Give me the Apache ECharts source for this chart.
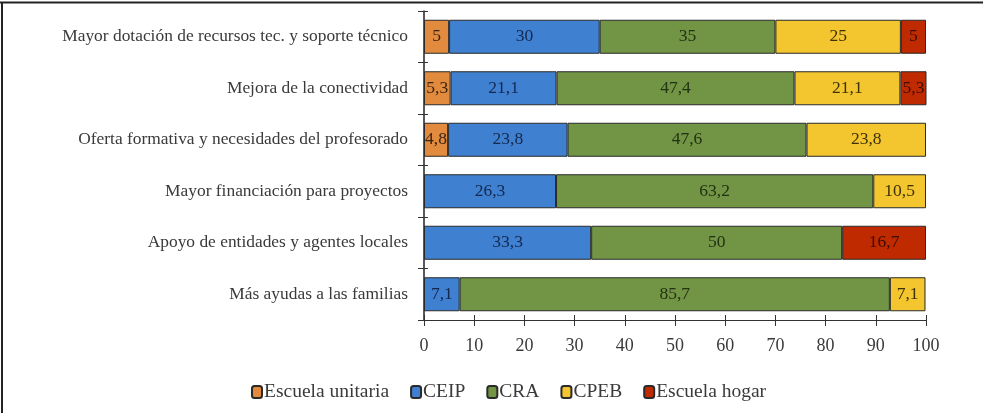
<!DOCTYPE html>
<html><head><meta charset="utf-8">
<script src="https://cdn.jsdelivr.net/npm/echarts@6/dist/echarts.min.js"></script>
<style>html,body{margin:0;padding:0;background:#fff;}#c{width:983px;height:413px;}</style>
</head><body><div id="c"></div>
<script>
const categories = [
  'Mayor dotación de recursos tec. y soporte técnico',
  'Mejora de la conectividad',
  'Oferta formativa y necesidades del profesorado',
  'Mayor financiación para proyectos',
  'Apoyo de entidades y agentes locales',
  'Más ayudas a las familias'
];
const seriesNames = ['Escuela unitaria', 'CEIP', 'CRA', 'CPEB', 'Escuela hogar'];
const escuelaUnitaria = [5, 5.3, 4.8, null, null, null];
const ceip = [30, 21.1, 23.8, 26.3, 33.3, 7.1];
const cra = [35, 47.4, 47.6, 63.2, 50, 85.7];
const cpeb = [25, 21.1, 23.8, 10.5, null, 7.1];
const escuelaHogar = [5, 5.3, null, null, 16.7, null];
const xTicks = [0, 10, 20, 30, 40, 50, 60, 70, 80, 90, 100];

const values = [escuelaUnitaria, ceip, cra, cpeb, escuelaHogar];
const colors = ['#E28A3D', '#3F80D0', '#719544', '#F3C52E', '#C02A00'];
const labelColors = ['#3a2412', '#14284f', '#233212', '#3d3206', '#3d0c00'];
const FONT = '"Liberation Serif", "DejaVu Serif", serif';

const chart = echarts.init(document.getElementById('c'));
chart.setOption({
  animation: false,
  textStyle: { fontFamily: FONT },
  grid: { left: 424, right: 57, top: 11, height: 309 },
  graphic: [
    { type: 'line', shape: { x1: 0, y1: 2.5, x2: 983, y2: 2.5 }, style: { stroke: '#222', lineWidth: 2 } },
    { type: 'line', shape: { x1: 2, y1: 2, x2: 2, y2: 413 }, style: { stroke: '#222', lineWidth: 2 } }
  ],
  legend: {
    bottom: 6, left: 246,
    itemWidth: 10, itemHeight: 12, itemGap: 21,
    textStyle: { fontFamily: FONT, fontSize: 19.5, color: '#3a3a3a', padding: [0, 0, 0, -3] },
    data: seriesNames
  },
  xAxis: [{
    type: 'value', min: 0, max: 100, interval: 10,
    axisLine: { show: true, lineStyle: { color: '#333', width: 1 } },
    axisTick: { show: true, length: 6, lineStyle: { color: '#333' } },
    axisLabel: { fontFamily: FONT, fontSize: 18, color: '#3a3a3a', margin: 17,
      formatter: v => String(v) },
    splitLine: { show: false }
  }, {
    type: 'value', min: 0, max: 100, interval: 10, position: 'bottom',
    axisLine: { show: false },
    axisTick: { show: true, inside: true, length: 5, lineStyle: { color: '#333' } },
    axisLabel: { show: false }, splitLine: { show: false }
  }],
  yAxis: [{
    type: 'category', data: categories, inverse: true,
    axisLine: { show: true, lineStyle: { color: '#222', width: 1.5 } },
    axisTick: { show: true, length: 6, lineStyle: { color: '#333' } },
    axisLabel: { fontFamily: FONT, fontSize: 17.4, color: '#3a3a3a', margin: 16 }
  }, {
    type: 'category', data: categories, inverse: true, position: 'left',
    axisLine: { show: false },
    axisTick: { show: true, inside: true, length: 4, lineStyle: { color: '#333' } },
    axisLabel: { show: false }
  }],
  series: seriesNames.map((name, i) => ({
    name, type: 'bar', stack: 'total', barWidth: 34,
    xAxisIndex: 0, yAxisIndex: 0,
    data: values[i],
    itemStyle: { color: colors[i], borderColor: '#2a2a2a', borderWidth: 1 },
    label: {
      show: true, position: 'inside', fontFamily: FONT, fontSize: 17.5,
      color: labelColors[i],
      formatter: p => p.value == null ? '' : String(p.value).replace('.', ',')
    }
  }))
});
</script></body></html>
